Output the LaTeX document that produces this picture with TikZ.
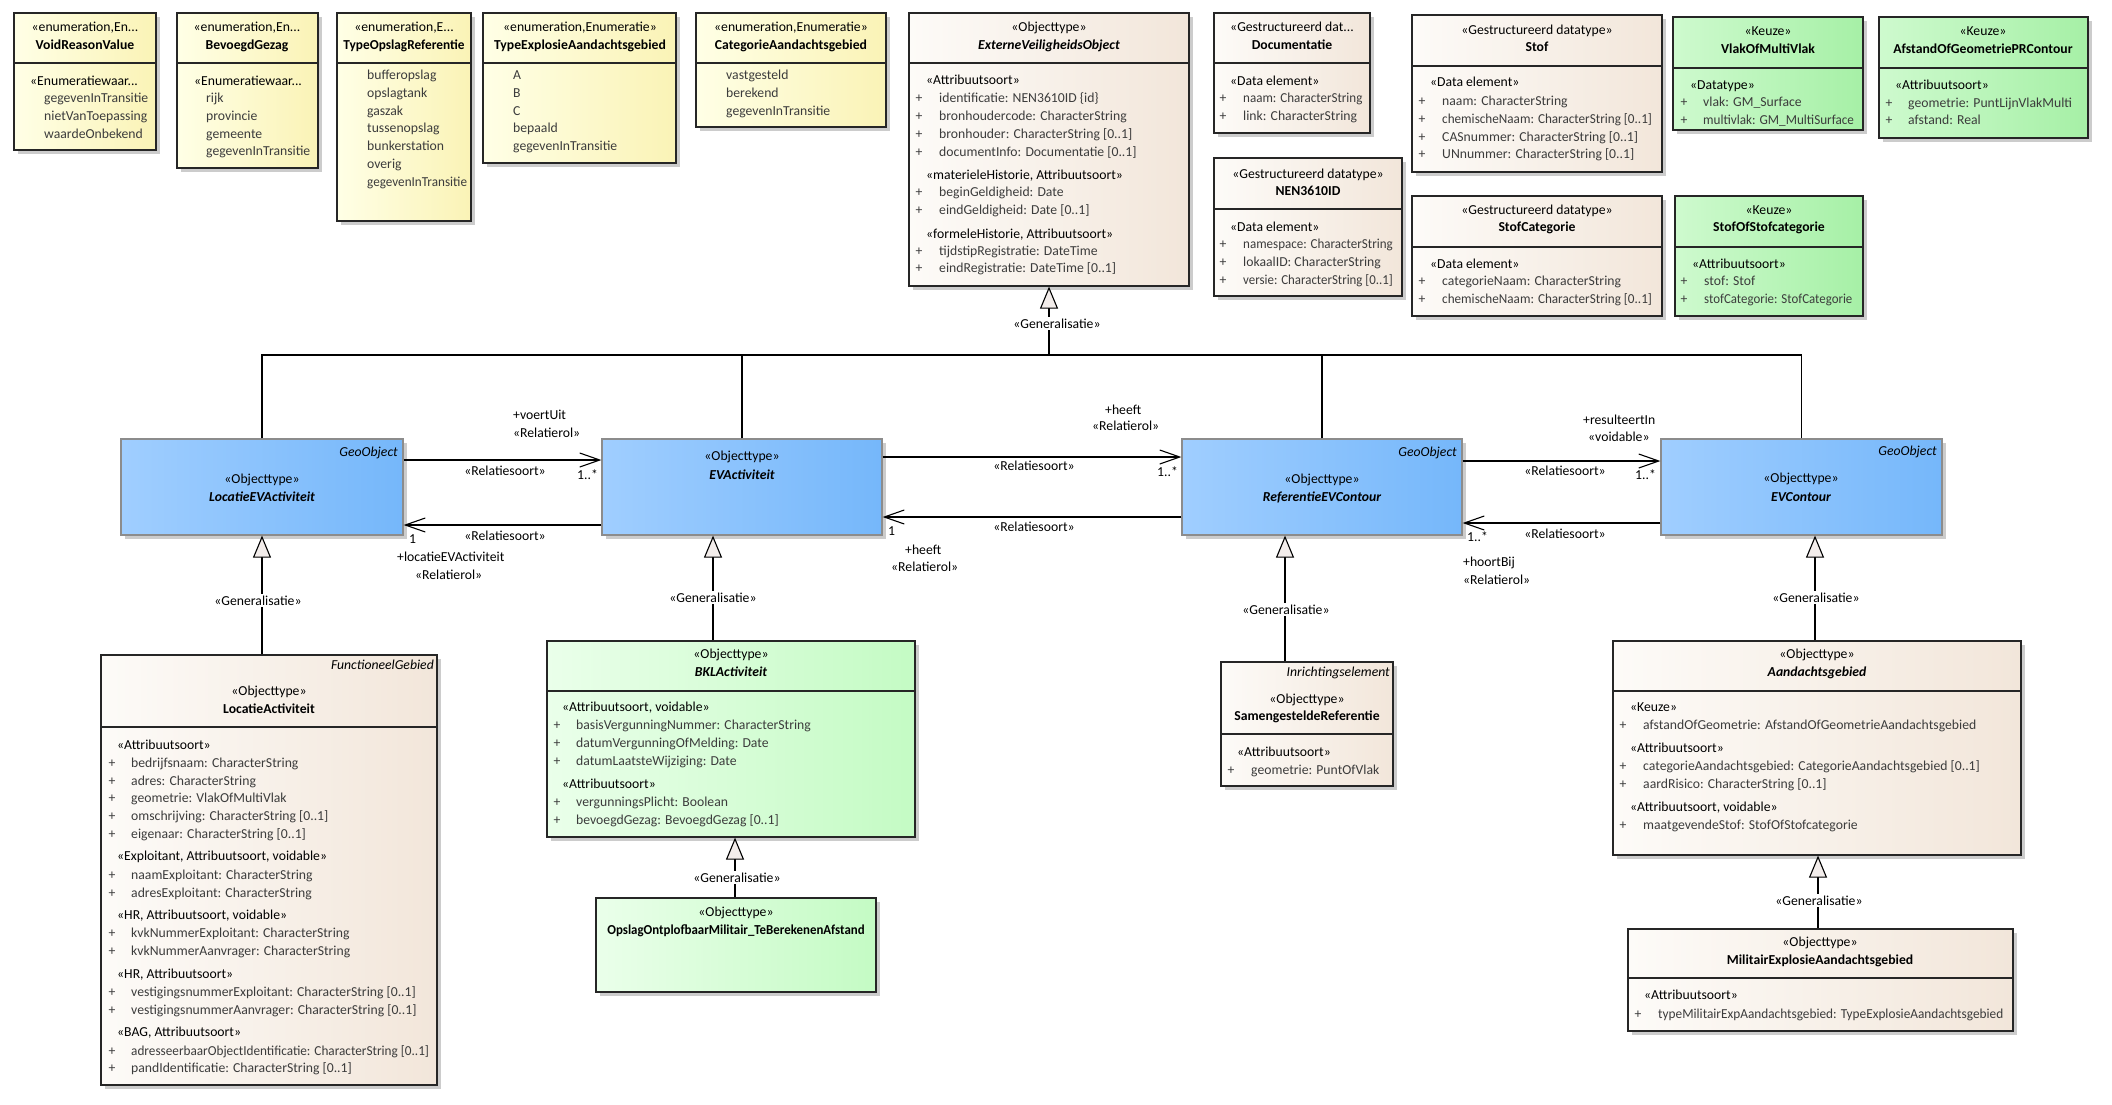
\documentclass[tikz,border=0pt]{standalone}
\usepackage{fontspec}
\setmainfont{Carlito}
\usetikzlibrary{arrows.meta,shadows,fit}
\definecolor{enL}{RGB}{255,255,230}
\definecolor{enR}{RGB}{250,243,182}
\definecolor{beL}{RGB}{253,251,248}
\definecolor{beR}{RGB}{242,230,218}
\definecolor{blL}{RGB}{160,206,255}
\definecolor{blR}{RGB}{117,183,250}
\definecolor{grL}{RGB}{234,255,234}
\definecolor{grR}{RGB}{196,251,196}
\definecolor{kzL}{RGB}{206,250,206}
\definecolor{kzR}{RGB}{166,240,166}
\definecolor{genfill}{RGB}{243,237,235}
\definecolor{attrc}{RGB}{60,60,60}
\newcount\tnum
\newcommand\tnode[4][]{\global\advance\tnum by 1\relax\node[txt,#1] (t\the\tnum) at (#2,#3) {#4};}
\newcommand\hdr[2]{\tnode{\hx}{#1}{#2}}
\newcommand\itm[2]{\tnode[attrtxt]{\ix}{#1}{#2}}
\newcommand\atr[2]{\tnode[ctr,attrtxt]{\px}{#1}{+}\tnode[attrtxt]{\ax}{#1}{#2}}
\newcommand\atrs[3]{\tnode[ctr,attrtxt]{\px}{#1}{+}\tnode[attrtxt]{\ax}{#1}{\scalebox{#2}[1]{#3}}}
\newcommand\divl[3]{\draw[divline] (#1,#3) -- (#2,#3);}
\newcommand\fsz{\fontsize{13.7}{16}\selectfont}
\tikzset{
 txt/.style={inner sep=0pt, font=\fsz, anchor=mid west},
 ctr/.style={anchor=mid},
 rgt/.style={anchor=mid east},
 nmb/.style={font=\fsz\bfseries},
 nmbi/.style={font=\fsz\bfseries\itshape},
 ita/.style={font=\fsz\itshape},
 attrtxt/.style={text=attrc},
 cls/.style={inner sep=0pt, draw=black!85, line width=1.2pt, general shadow={fill=black!20, shadow xshift=4pt, shadow yshift=-4pt}},
 enumbox/.style={cls, left color=enL, right color=enR},
 dtbox/.style={cls, left color=beL, right color=beR},
 bluebox/.style={cls, draw=black!45, left color=blL, right color=blR},
 grbox/.style={cls, left color=grL, right color=grR},
 kzbox/.style={cls, left color=kzL, right color=kzR},
 divline/.style={draw=black!85, line width=1.2pt},
 conn/.style={draw=black, line width=1.1pt},
 gen/.style={conn, -{Triangle[length=22pt,width=18pt,fill=genfill,line width=1.1pt]}},
 assoc/.style={conn, -{Straight Barb[length=20pt,width=14pt,line width=1.1pt]}},
 lbl/.style={txt, anchor=mid, fill=white, inner sep=1.5pt},
}
\begin{document}
\begin{tikzpicture}[x=1pt,y=-1pt]
\fill[white] (0,0) rectangle (2112,1104);
\useasboundingbox (0,0) rectangle (2112,1104);

% ---------- enumerations
\node[enumbox, fit={(14,13) (156,150)}] (voidr) {};
\divl{14}{156}{63}
\tnode[ctr]{85}{29}{«enumeration,En...}
\tnode[ctr,nmb]{85}{47}{VoidReasonValue}
\def\hx{30}\def\ix{44}
\hdr{83}{«Enumeratiewaar...}
\itm{100}{gegevenInTransitie}
\itm{118}{nietVanToepassing}
\itm{136}{waardeOnbekend}

\node[enumbox, fit={(177,13) (318,168)}] (bevg) {};
\divl{177}{318}{63}
\tnode[ctr]{247}{29}{«enumeration,En...}
\tnode[ctr,nmb]{247}{47}{BevoegdGezag}
\def\hx{194}\def\ix{206}
\hdr{83}{«Enumeratiewaar...}
\itm{100}{rijk}
\itm{118}{provincie}
\itm{136}{gemeente}
\itm{153}{gegevenInTransitie}

\node[enumbox, fit={(337,13) (471,221)}] (tor) {};
\divl{337}{471}{63}
\tnode[ctr]{404}{29}{«enumeration,E...}
\tnode[ctr,nmb]{404}{47}{\scalebox{0.97}[1]{TypeOpslagReferentie}}
\def\ix{367}
\itm{77}{bufferopslag}
\itm{95}{opslagtank}
\itm{113}{gaszak}
\itm{130}{tussenopslag}
\itm{148}{bunkerstation}
\itm{166}{overig}
\itm{184}{\scalebox{0.96}[1]{gegevenInTransitie}}

\node[enumbox, fit={(483,13) (676,163)}] (tea) {};
\divl{483}{676}{63}
\tnode[ctr]{580}{29}{«enumeration,Enumeratie»}
\tnode[ctr,nmb]{580}{47}{TypeExplosieAandachtsgebied}
\def\ix{513}
\itm{77}{A}
\itm{95}{B}
\itm{113}{C}
\itm{130}{bepaald}
\itm{148}{gegevenInTransitie}

\node[enumbox, fit={(696,13) (886,127)}] (cag) {};
\divl{696}{886}{63}
\tnode[ctr]{791}{29}{«enumeration,Enumeratie»}
\tnode[ctr,nmb]{791}{47}{CategorieAandachtsgebied}
\def\ix{726}
\itm{77}{vastgesteld}
\itm{95}{berekend}
\itm{113}{gegevenInTransitie}

% ---------- ExterneVeiligheidsObject
\node[dtbox, fit={(909,13) (1189,286)}] (evo) {};
\divl{909}{1189}{63}
\tnode[ctr]{1049}{29}{«Objecttype»}
\tnode[ctr,nmbi]{1049}{47}{ExterneVeiligheidsObject}
\def\hx{926}\def\px{919}\def\ax{939}
\hdr{82}{«Attribuutsoort»}
\atr{100}{identificatie: NEN3610ID \{id\}}
\atr{118}{bronhoudercode: CharacterString}
\atr{136}{bronhouder: CharacterString [0..1]}
\atr{154}{documentInfo: Documentatie [0..1]}
\hdr{177}{«materieleHistorie, Attribuutsoort»}
\atr{194}{beginGeldigheid: Date}
\atr{212}{eindGeldigheid: Date [0..1]}
\hdr{236}{«formeleHistorie, Attribuutsoort»}
\atr{253}{tijdstipRegistratie: DateTime}
\atr{270}{eindRegistratie: DateTime [0..1]}

% ---------- datatypes
\node[dtbox, fit={(1214,13) (1370,133)}] (doc) {};
\divl{1214}{1370}{63}
\tnode[ctr]{1292}{29}{«Gestructureerd dat...}
\tnode[ctr,nmb]{1292}{47}{Documentatie}
\def\hx{1230}\def\px{1223}\def\ax{1243}
\hdr{83}{«Data element»}
\atrs{100}{0.95}{naam: CharacterString}
\atr{118}{link: CharacterString}

\node[dtbox, fit={(1214,158) (1402,296)}] (nen) {};
\divl{1214}{1402}{209}
\tnode[ctr]{1308}{176}{«Gestructureerd datatype»}
\tnode[ctr,nmb]{1308}{193}{NEN3610ID}
\hdr{229}{«Data element»}
\atrs{246}{0.95}{namespace: CharacterString}
\atr{264}{lokaalID: CharacterString}
\atrs{282}{0.94}{versie: CharacterString [0..1]}

\node[dtbox, fit={(1412,15) (1662,172)}] (stof) {};
\divl{1412}{1662}{66}
\tnode[ctr]{1537}{32}{«Gestructureerd datatype»}
\tnode[ctr,nmb]{1537}{49}{Stof}
\def\hx{1430}\def\px{1422}\def\ax{1442}
\hdr{84}{«Data element»}
\atr{103}{naam: CharacterString}
\atrs{121}{0.96}{chemischeNaam: CharacterString [0..1]}
\atr{139}{CASnummer: CharacterString [0..1]}
\atr{156}{UNnummer: CharacterString [0..1]}

\node[dtbox, fit={(1412,196) (1662,316)}] (stofc) {};
\divl{1412}{1662}{247}
\tnode[ctr]{1537}{212}{«Gestructureerd datatype»}
\tnode[ctr,nmb]{1537}{229}{StofCategorie}
\hdr{266}{«Data element»}
\atr{283}{categorieNaam: CharacterString}
\atrs{301}{0.96}{chemischeNaam: CharacterString [0..1]}

% ---------- Keuze
\node[kzbox, fit={(1673,17) (1863,130)}] (vlak) {};
\divl{1673}{1863}{68}
\tnode[ctr]{1768}{33}{«Keuze»}
\tnode[ctr,nmb]{1768}{51}{VlakOfMultiVlak}
\def\hx{1690}\def\px{1684}\def\ax{1703}
\hdr{87}{«Datatype»}
\atr{104}{vlak: GM\_Surface}
\atrs{122}{0.96}{multivlak: GM\_MultiSurface}

\node[kzbox, fit={(1879,17) (2088,138)}] (afst) {};
\divl{1879}{2088}{68}
\tnode[ctr]{1983}{33}{«Keuze»}
\tnode[ctr,nmb]{1983}{51}{AfstandOfGeometriePRContour}
\def\hx{1895}\def\px{1889}\def\ax{1908}
\hdr{87}{«Attribuutsoort»}
\atr{105}{geometrie: PuntLijnVlakMulti}
\atr{122}{afstand: Real}

\node[kzbox, fit={(1675,196) (1863,316)}] (sos) {};
\divl{1675}{1863}{247}
\tnode[ctr]{1769}{212}{«Keuze»}
\tnode[ctr,nmb]{1769}{229}{StofOfStofcategorie}
\def\hx{1692}\def\px{1684}\def\ax{1704}
\hdr{266}{«Attribuutsoort»}
\atr{283}{stof: Stof}
\atrs{301}{0.94}{stofCategorie: StofCategorie}

% ---------- blue objecttypes
\node[bluebox, fit={(121,439) (403,535)}] (locev) {};
\tnode[rgt,ita]{398}{454}{GeoObject}
\tnode[ctr]{262}{481}{«Objecttype»}
\tnode[ctr,nmbi]{262}{499}{LocatieEVActiviteit}

\node[bluebox, fit={(602,439) (882,535)}] (evact) {};
\tnode[ctr]{742}{458}{«Objecttype»}
\tnode[ctr,nmbi]{742}{477}{EVActiviteit}

\node[bluebox, fit={(1182,439) (1462,535)}] (refevc) {};
\tnode[rgt,ita]{1457}{454}{GeoObject}
\tnode[ctr]{1322}{481}{«Objecttype»}
\tnode[ctr,nmbi]{1322}{499}{ReferentieEVContour}

\node[bluebox, fit={(1661,439) (1942,535)}] (evc) {};
\tnode[rgt,ita]{1937}{453}{GeoObject}
\tnode[ctr]{1801}{480}{«Objecttype»}
\tnode[ctr,nmbi]{1801}{499}{EVContour}

% ---------- LocatieActiviteit
\node[dtbox, fit={(101,655) (437,1085)}] (lact) {};
\divl{101}{437}{727}
\tnode[rgt,ita]{434}{667}{FunctioneelGebied}
\tnode[ctr]{269}{693}{«Objecttype»}
\tnode[ctr,nmb]{269}{711}{LocatieActiviteit}
\def\hx{117}\def\px{112}\def\ax{131}
\hdr{747}{«Attribuutsoort»}
\atr{765}{bedrijfsnaam: CharacterString}
\atr{783}{adres: CharacterString}
\atr{800}{geometrie: VlakOfMultiVlak}
\atr{818}{omschrijving: CharacterString [0..1]}
\atr{836}{eigenaar: CharacterString [0..1]}
\hdr{858}{«Exploitant, Attribuutsoort, voidable»}
\atr{877}{naamExploitant: CharacterString}
\atr{895}{adresExploitant: CharacterString}
\hdr{917}{«HR, Attribuutsoort, voidable»}
\atr{935}{kvkNummerExploitant: CharacterString}
\atr{953}{kvkNummerAanvrager: CharacterString}
\hdr{976}{«HR, Attribuutsoort»}
\atr{994}{vestigingsnummerExploitant: CharacterString [0..1]}
\atr{1012}{vestigingsnummerAanvrager: CharacterString [0..1]}
\hdr{1034}{«BAG, Attribuutsoort»}
\atrs{1053}{0.965}{adresseerbaarObjectIdentificatie: CharacterString [0..1]}
\atr{1070}{pandIdentificatie: CharacterString [0..1]}

% ---------- BKLActiviteit
\node[grbox, fit={(547,641) (915,837)}] (bkl) {};
\divl{547}{915}{691}
\tnode[ctr]{731}{656}{«Objecttype»}
\tnode[ctr,nmbi]{731}{674}{BKLActiviteit}
\def\hx{562}\def\px{557}\def\ax{576}
\hdr{709}{«Attribuutsoort, voidable»}
\atr{727}{basisVergunningNummer: CharacterString}
\atr{745}{datumVergunningOfMelding: Date}
\atr{763}{datumLaatsteWijziging: Date}
\hdr{786}{«Attribuutsoort»}
\atr{804}{vergunningsPlicht: Boolean}
\atr{822}{bevoegdGezag: BevoegdGezag [0..1]}

\node[grbox, fit={(596,898) (876,992)}] (opslag) {};
\tnode[ctr]{736}{914}{«Objecttype»}
\tnode[ctr,nmb]{736}{932}{\scalebox{0.94}[1]{OpslagOntplofbaarMilitair\_TeBerekenenAfstand}}

% ---------- SamengesteldeReferentie
\node[dtbox, fit={(1221,662) (1393,786)}] (samen) {};
\divl{1221}{1393}{734}
\tnode[rgt,ita]{1390}{674}{Inrichtingselement}
\tnode[ctr]{1307}{701}{«Objecttype»}
\tnode[ctr,nmb]{1307}{718}{SamengesteldeReferentie}
\def\hx{1237}\def\px{1231}\def\ax{1251}
\hdr{754}{«Attribuutsoort»}
\atr{772}{geometrie: PuntOfVlak}

% ---------- Aandachtsgebied
\node[dtbox, fit={(1613,641) (2021,855)}] (aand) {};
\divl{1613}{2021}{691}
\tnode[ctr]{1817}{656}{«Objecttype»}
\tnode[ctr,nmbi]{1817}{674}{Aandachtsgebied}
\def\hx{1630}\def\px{1623}\def\ax{1643}
\hdr{709}{«Keuze»}
\atr{727}{afstandOfGeometrie: AfstandOfGeometrieAandachtsgebied}
\hdr{750}{«Attribuutsoort»}
\atr{768}{categorieAandachtsgebied: CategorieAandachtsgebied [0..1]}
\atr{786}{aardRisico: CharacterString [0..1]}
\hdr{809}{«Attribuutsoort, voidable»}
\atr{827}{maatgevendeStof: StofOfStofcategorie}

\node[dtbox, fit={(1628,929) (2013,1031)}] (mil) {};
\divl{1628}{2013}{978}
\tnode[ctr]{1820}{944}{«Objecttype»}
\tnode[ctr,nmb]{1820}{962}{MilitairExplosieAandachtsgebied}
\def\hx{1644}\def\px{1638}\def\ax{1658}
\hdr{997}{«Attribuutsoort»}
\atrs{1016}{0.97}{typeMilitairExpAandachtsgebied: TypeExplosieAandachtsgebied}

% ---------- generalisation tree to ExterneVeiligheidsObject
\coordinate (bus) at (1049,355);
\draw[conn] (locev.north) |- (bus);
\draw[conn] (evact.north) |- (bus);
\draw[conn] (refevc.north) |- (bus);
\draw[conn] (evc.north) |- (bus);
\draw[gen] (bus) -- (evo.south);
\node[lbl] (g0) at (1057,326) {«Generalisatie»};

% ---------- other generalisations
\draw[gen] (lact.north -| locev.south) -- (locev.south);
\node[lbl] (g1) at (258,603) {«Generalisatie»};
\draw[gen] (bkl.north -| 713,0) -- (evact.south -| 713,0);
\node[lbl] (g2) at (713,600) {«Generalisatie»};
\draw[gen] (samen.north -| 1285,0) -- (refevc.south -| 1285,0);
\node[lbl] (g3) at (1286,612) {«Generalisatie»};
\draw[gen] (aand.north -| 1815,0) -- (evc.south -| 1815,0);
\node[lbl] (g4) at (1816,600) {«Generalisatie»};
\draw[gen] (opslag.north -| 735,0) -- (bkl.south -| 735,0);
\node[lbl] (g5) at (737,880) {«Generalisatie»};
\draw[gen] (mil.north -| 1818,0) -- (aand.south -| 1818,0);
\node[lbl] (g6) at (1819,903) {«Generalisatie»};

% ---------- associations
\draw[assoc] (locev.east |- 0,460) -- (evact.west |- 0,460);
\draw[assoc] (evact.west |- 0,525) -- (locev.east |- 0,525);
\draw[assoc] (evact.east |- 0,457) -- (refevc.west |- 0,457);
\draw[assoc] (refevc.west |- 0,517) -- (evact.east |- 0,517);
\draw[assoc] (refevc.east |- 0,461) -- (evc.west |- 0,461);
\draw[assoc] (evc.west |- 0,523) -- (refevc.east |- 0,523);

\tnode{513}{417}{+voertUit}
\tnode{513}{435}{«Relatierol»}
\tnode[ctr]{505}{473}{«Relatiesoort»}
\tnode{577}{477}{1..*}
\tnode{409}{541}{1}
\tnode[ctr]{505}{538}{«Relatiesoort»}
\tnode{397}{559}{+locatieEVActiviteit}
\tnode{415}{577}{«Relatierol»}

\tnode{1105}{412}{+heeft}
\tnode{1092}{428}{«Relatierol»}
\tnode[ctr]{1034}{468}{«Relatiesoort»}
\tnode{1157}{474}{1..*}
\tnode{888}{533}{1}
\tnode[ctr]{1034}{529}{«Relatiesoort»}
\tnode{905}{552}{+heeft}
\tnode{891}{569}{«Relatierol»}

\tnode{1583}{422}{+resulteertIn}
\tnode{1588}{439}{«voidable»}
\tnode[ctr]{1565}{473}{«Relatiesoort»}
\tnode{1635}{477}{1..*}
\tnode{1467}{539}{1..*}
\tnode[ctr]{1565}{536}{«Relatiesoort»}
\tnode{1463}{564}{+hoortBij}
\tnode{1463}{582}{«Relatierol»}
\end{tikzpicture}
\end{document}
